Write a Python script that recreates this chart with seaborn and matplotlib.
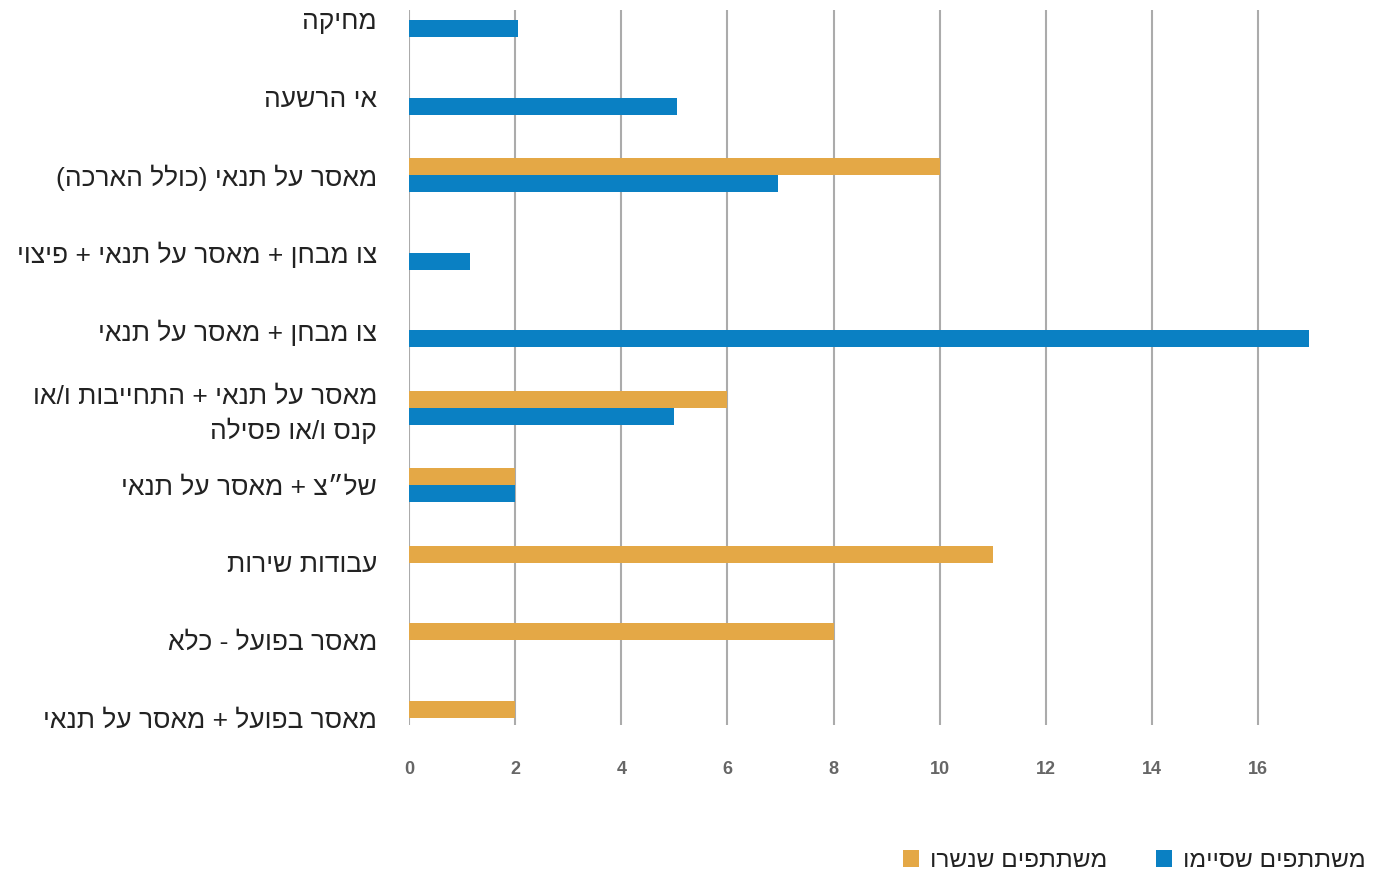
import matplotlib
matplotlib.use("Agg")
import matplotlib.pyplot as plt
from matplotlib.patches import Patch
import seaborn as sns
import pandas as pd

# ---------------- data ----------------
categories = [
    "מחיקה",
    "אי הרשעה",
    "מאסר על תנאי (כולל הארכה)",
    "צו מבחן + מאסר על תנאי + פיצוי",
    "צו מבחן + מאסר על תנאי",
    "מאסר על תנאי + התחייבות ו/או\nקנס ו/או פסילה",
    "של״צ + מאסר על תנאי",
    "עבודות שירות",
    "מאסר בפועל - כלא",
    "מאסר בפועל + מאסר על תנאי",
]
dropped = [0, 0, 10, 0, 0, 6, 2, 11, 8, 2]          # משתתפים שנשרו
completed = [2.05, 5.05, 6.95, 1.15, 16.95, 5, 2, 0, 0, 0]  # משתתפים שסיימו
series_names = ["משתתפים שנשרו", "משתתפים שסיימו"]
x_ticks = [0, 2, 4, 6, 8, 10, 12, 14, 16]

colors = {series_names[0]: "#E4A846", series_names[1]: "#0A80C3"}


def rtl(s):
    """Visual order for right-to-left text (per line)."""
    mirror = {"(": ")", ")": "("}
    return "\n".join("".join(mirror.get(c, c) for c in reversed(line))
                     for line in s.split("\n"))


rows = []
for c, d, k in zip(categories, dropped, completed):
    rows.append({"category": c, "series": series_names[0], "value": d})
    rows.append({"category": c, "series": series_names[1], "value": k})
df = pd.DataFrame(rows)

sns.set_theme(style="white")
plt.rcParams["font.family"] = ["Liberation Sans", "DejaVu Sans"]

fig = plt.figure(figsize=(13.81, 8.75), dpi=100)
ax = fig.add_axes([409 / 1381, 1 - 725 / 875, (1322 - 409) / 1381, (725 - 10) / 875])

sns.barplot(data=df, y="category", x="value", hue="series",
            order=categories, hue_order=series_names, palette=colors,
            orient="h", width=0.44, dodge=True, saturation=1,
            legend=False, ax=ax, linewidth=0)

# category 0 at ~20px, category 9 at ~718px (spacing ~77.6px)
sp_px = (718 - 20) / 9
ax.set_xlim(0, 17.2)
ax.set_ylim(9 + (725 - 718) / sp_px, -(20 - 10) / sp_px)
ax.set_xticks(x_ticks)
ax.set_xticklabels([str(t) for t in x_ticks])
ax.grid(axis="x", color="#ABABAB", linewidth=1.5)
ax.grid(axis="y", visible=False)
ax.set_axisbelow(True)
for sp in ax.spines.values():
    sp.set_visible(False)

ax.set_yticks(range(len(categories)))
ax.set_yticklabels([rtl(c) for c in categories], fontsize=19, color="#222222")
for lab in ax.get_yticklabels():
    lab.set_linespacing(1.4)
ax.tick_params(axis="y", length=0, pad=23)
ax.tick_params(axis="x", length=0, pad=26)
for lab in ax.get_xticklabels():
    lab.set_fontfamily(["Liberation Sans Narrow", "Liberation Sans", "DejaVu Sans"])
    lab.set_fontweight("bold")
    lab.set_fontsize(13)
    lab.set_color("#666666")

ax.set_xlabel("")
ax.set_ylabel("")

handles = [Patch(facecolor=colors[s], edgecolor="none") for s in series_names]
fig.legend(handles, [rtl(s) for s in series_names],
           loc="center right", bbox_to_anchor=(1366 / 1381, 1 - 861 / 875),
           ncol=2, frameon=False, handlelength=0.65, handleheight=0.65,
           handletextpad=0.45, columnspacing=2.0, fontsize=17.6,
           borderpad=0, borderaxespad=0,
           labelcolor="#222222")

fig.savefig("out.png", dpi=100)
